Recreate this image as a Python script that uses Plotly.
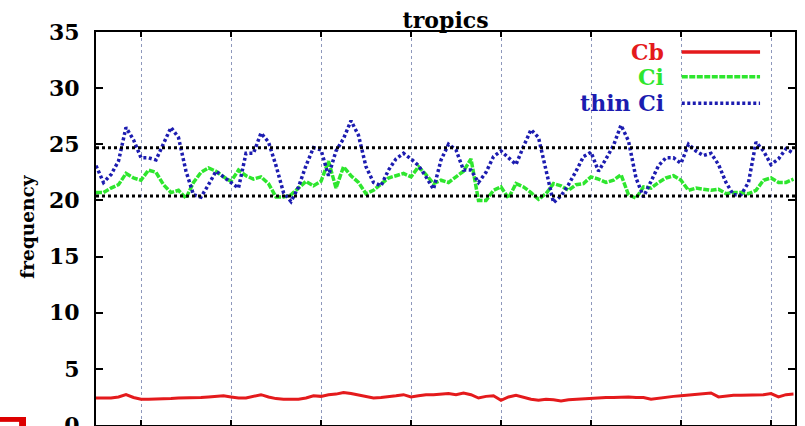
import plotly.graph_objects as go

# month index (x) and series values
months = list(range(94))

cb = [2.4, 2.4, 2.4, 2.5, 2.7, 2.45, 2.3, 2.3, 2.3, 2.35, 2.35, 2.4, 2.4, 2.45, 2.45, 2.5,
      2.55, 2.6, 2.5, 2.4, 2.4, 2.55, 2.7, 2.5, 2.35, 2.3, 2.3, 2.3, 2.4, 2.6, 2.55, 2.7,
      2.75, 2.9, 2.8, 2.65, 2.5, 2.4, 2.45, 2.5, 2.6, 2.7, 2.5, 2.6, 2.7, 2.7, 2.75, 2.8,
      2.7, 2.85, 2.7, 2.4, 2.55, 2.6, 2.2, 2.5, 2.65, 2.45, 2.3, 2.2, 2.3, 2.25, 2.15, 2.25,
      2.3, 2.35, 2.4, 2.4, 2.45, 2.45, 2.5, 2.5, 2.45, 2.45, 2.3, 2.4, 2.5, 2.55, 2.6, 2.65,
      2.7, 2.75, 2.85, 2.5, 2.6, 2.65, 2.65, 2.65, 2.65, 2.7, 2.8, 2.5, 2.7, 2.75]

ci = [20.7, 20.7, 21.1, 21.4, 22.4, 22.0, 21.8, 22.7, 22.5, 21.4, 20.7, 20.9, 20.2, 21.6,
      22.5, 22.9, 22.6, 22.1, 21.7, 22.7, 22.2, 21.9, 22.1, 21.5, 20.3, 20.3, 20.5, 21.1,
      21.7, 21.3, 21.7, 23.5, 21.1, 23.0, 22.2, 21.6, 20.6, 20.9, 21.5, 22.0, 22.2, 22.4,
      22.1, 23.0, 22.3, 21.5, 21.8, 21.6, 22.1, 22.6, 23.7, 20.0, 20.0, 20.9, 21.2, 20.2,
      21.5, 21.2, 20.7, 20.1, 20.6, 21.5, 21.3, 20.9, 21.4, 21.5, 22.1, 21.9, 21.6, 21.8,
      22.3, 20.5, 20.2, 21.2, 21.1, 21.6, 22.0, 22.2, 21.8, 20.9, 21.1, 21.0, 20.9, 21.0,
      20.6, 20.7, 20.7, 20.6, 20.9, 21.8, 22.0, 21.6, 21.6, 21.9]

thin_ci = [23.1, 21.6, 22.3, 23.5, 26.5, 25.4, 23.8, 23.8, 23.6, 25.1, 26.5, 25.6, 22.6,
           20.5, 20.3, 21.4, 22.6, 22.1, 21.6, 21.1, 24.2, 24.2, 26.0, 25.2, 23.1, 20.7,
           19.9, 21.2, 23.1, 24.7, 24.5, 22.2, 24.4, 25.5, 27.1, 25.8, 23.0, 21.6, 21.3,
           22.7, 23.7, 24.2, 23.7, 23.1, 22.1, 21.0, 23.6, 25.0, 24.5, 22.7, 22.7, 21.6,
           22.5, 23.9, 24.4, 23.8, 23.2, 24.8, 26.3, 25.6, 22.6, 19.8, 20.4, 21.4, 22.6,
           23.9, 24.3, 22.6, 23.7, 24.9, 26.7, 25.3, 22.0, 20.3, 21.7, 23.1, 23.8, 23.8,
           23.3, 25.0, 24.4, 24.0, 24.2, 23.2, 21.6, 20.5, 20.5, 21.6, 25.2, 24.4, 23.2,
           23.7, 24.6, 24.2]

ref_levels = [24.7, 20.4]
x_ticks = [6, 18, 30, 42, 54, 66, 78, 90]
y_ticks = [0, 5, 10, 15, 20, 25, 30, 35]

RED = "#e41a1c"
GREEN = "#2ee62e"
BLUE = "#1c1cb0"
FONT = "DejaVu Serif"

fig = go.Figure()
fig.add_trace(go.Scatter(x=months, y=cb, mode="lines", name="Cb",
                         line=dict(color=RED, width=3)))
fig.add_trace(go.Scatter(x=months, y=ci, mode="lines", name="Ci",
                         line=dict(color=GREEN, width=3.5, dash="6px,1.5px")))
fig.add_trace(go.Scatter(x=months, y=thin_ci, mode="lines", name="thin Ci",
                         line=dict(color=BLUE, width=3.5, dash="3px,2.5px")))

for lv in ref_levels:
    fig.add_shape(type="line", xref="paper", x0=0, x1=1, yref="y", y0=lv, y1=lv,
                  line=dict(color="black", width=3, dash="3px,3px"))

# gnuplot-style key: text right-aligned, sample to the right
key = [("Cb", RED, "solid", 0.949), ("Ci", GREEN, "6px,1.5px", 0.886),
       ("thin Ci", BLUE, "3px,2.5px", 0.819)]
for name, col, dsh, ky in key:
    fig.add_annotation(text=name, xref="paper", yref="paper", x=0.815, y=ky,
                       xanchor="right", yanchor="middle", showarrow=False,
                       font=dict(family=FONT, size=22, color=col, weight="bold"))
    fig.add_shape(type="line", xref="paper", yref="paper", x0=0.838, x1=0.950,
                  y0=ky, y1=ky, line=dict(color=col, width=3.5, dash=dsh))

fig.add_annotation(text="frequency", xref="paper", yref="paper", x=-0.098, y=0.506,
                   textangle=-90, showarrow=False, xanchor="center", yanchor="middle",
                   font=dict(family=FONT, size=18.5, color="black", weight="bold"))

# partial red box at bottom-left corner
fig.add_shape(type="rect", xref="paper", yref="paper", x0=-0.14, x1=-0.1001,
              y0=-0.003, y1=0.0204, line=dict(width=0), fillcolor="#dd0000")
fig.add_shape(type="rect", xref="paper", yref="paper", x0=-0.14, x1=-0.11,
              y0=-0.003, y1=0.008, line=dict(width=0), fillcolor="white")

fig.update_layout(
    width=805, height=426,
    margin=dict(l=96, r=10, t=32, b=1, autoexpand=False),
    paper_bgcolor="white", plot_bgcolor="white",
    showlegend=False,
    title=dict(text="tropics", x=0.5535, xanchor="center", y=0.953, yanchor="middle",
               font=dict(family=FONT, size=22, color="black", weight="bold")),
    xaxis=dict(range=[0, 93.2], tickvals=x_ticks, showticklabels=False,
               ticks="inside", ticklen=5, tickwidth=1.5, tickcolor="black",
               showline=True, linewidth=2, linecolor="black", mirror="ticks",
               showgrid=True, gridcolor="#8e98bc", gridwidth=1, griddash="dot",
               zeroline=False, automargin=False),
    yaxis=dict(range=[0, 35], tickvals=y_ticks, ticks="inside", ticklen=7,
               tickwidth=2, tickcolor="black", showline=True, linewidth=2,
               linecolor="black", mirror="ticks", showgrid=False, zeroline=False,
               ticklabelstandoff=10, ticklabeloverflow="allow", automargin=False,
               tickfont=dict(family=FONT, size=22, color="black", weight="bold")),
)

fig.write_html("out.html", config={"displayModeBar": False},
               post_script="document.body.style.margin='0';document.body.style.overflow='hidden';")
